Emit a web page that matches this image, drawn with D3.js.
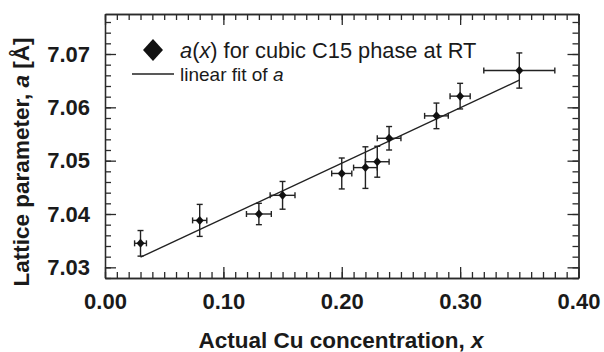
<!DOCTYPE html>
<html>
<head>
<meta charset="utf-8">
<script src="https://cdn.jsdelivr.net/npm/d3@7"></script>
<style>
  body { margin: 0; background: #fff; }
  svg { font-family: "Liberation Sans", Arial, sans-serif; }
  .axis text { font-size: 22px; font-weight: bold; fill: #1a1a1a; }
  .axis path, .axis line { stroke: #2a2a2a; stroke-width: 1.3; }
</style>
</head>
<body>
<svg id="chart"></svg>
<script>
// data
var cuX   = [0.030, 0.080, 0.130, 0.150, 0.200, 0.220, 0.230, 0.240, 0.280, 0.300, 0.350];
var latA  = [7.0345, 7.0388, 7.0400, 7.0435, 7.0476, 7.0487, 7.0498, 7.0542, 7.0584, 7.0621, 7.0669];
var errX  = [0.005, 0.006, 0.0105, 0.0105, 0.0085, 0.010, 0.010, 0.010, 0.010, 0.0085, 0.030];
var errA  = [0.0024, 0.0030, 0.0020, 0.0026, 0.0029, 0.0039, 0.0029, 0.0022, 0.0024, 0.0024, 0.0033];
var fitX  = [0.03, 0.35];
var fitA  = [7.0319, 7.0651];
var xTicks = [0.00, 0.10, 0.20, 0.30, 0.40];
var yTicks = [7.03, 7.04, 7.05, 7.06, 7.07];

var WIDTH = 604, HEIGHT = 352;
var margin = { left: 105, right: 25.5, top: 14, bottom: 74 };
var w = WIDTH - margin.left - margin.right,
    h = HEIGHT - margin.top - margin.bottom;

var svg = d3.select("#chart").attr("width", WIDTH).attr("height", HEIGHT);
var g = svg.append("g").attr("transform", "translate(" + margin.left + "," + margin.top + ")");

var x = d3.scaleLinear().domain([0, 0.40]).range([0, w]);
var y = d3.scaleLinear().domain([7.028, 7.0775]).range([h, 0]);

var xMinor = d3.range(0, 0.4001, 0.01);
var yMinor = d3.range(7.028, 7.0776, 0.002);

// AXES ////////////////////////////////////////////////////////////////
function addAxis(axis, tr) {
    return g.append("g").attr("class", "axis").attr("transform", tr).call(axis);
}

addAxis(d3.axisBottom(x).tickValues(xTicks).tickFormat(d3.format(".2f"))
    .tickSizeInner(-11).tickSizeOuter(0).tickPadding(15), "translate(0," + h + ")");
addAxis(d3.axisBottom(x).tickValues(xMinor).tickFormat("")
    .tickSizeInner(-6).tickSizeOuter(0), "translate(0," + h + ")");
addAxis(d3.axisTop(x).tickValues(xTicks).tickFormat("")
    .tickSizeInner(-11).tickSizeOuter(0), "translate(0,0)");
addAxis(d3.axisTop(x).tickValues(xMinor).tickFormat("")
    .tickSizeInner(-6).tickSizeOuter(0), "translate(0,0)");

addAxis(d3.axisLeft(y).tickValues(yTicks).tickFormat(d3.format(".2f"))
    .tickSizeInner(-11).tickSizeOuter(0).tickPadding(15), "translate(0,0)");
addAxis(d3.axisLeft(y).tickValues(yMinor).tickFormat("")
    .tickSizeInner(-6).tickSizeOuter(0), "translate(0,0)");
addAxis(d3.axisRight(y).tickValues(yTicks).tickFormat("")
    .tickSizeInner(-11).tickSizeOuter(0), "translate(" + w + ",0)");
addAxis(d3.axisRight(y).tickValues(yMinor).tickFormat("")
    .tickSizeInner(-6).tickSizeOuter(0), "translate(" + w + ",0)");

// FIT LINE ////////////////////////////////////////////////////////////
g.append("line")
    .attr("x1", x(fitX[0])).attr("y1", y(fitA[0]))
    .attr("x2", x(fitX[1])).attr("y2", y(fitA[1]))
    .attr("stroke", "#222").attr("stroke-width", 1.4);

// ERROR BARS + POINTS /////////////////////////////////////////////////
var pts = cuX.map(function (d, i) { return { x: d, a: latA[i], ex: errX[i], ea: errA[i] }; });
var cap = 3;
var eb = g.append("g").attr("stroke", "#222").attr("stroke-width", 1.4);

pts.forEach(function (d) {
    var cx = x(d.x), cy = y(d.a);
    var x0 = x(d.x - d.ex), x1 = x(d.x + d.ex);
    var y0 = y(d.a - d.ea), y1 = y(d.a + d.ea);
    eb.append("line").attr("x1", x0).attr("x2", x1).attr("y1", cy).attr("y2", cy);
    eb.append("line").attr("x1", x0).attr("x2", x0).attr("y1", cy - cap).attr("y2", cy + cap);
    eb.append("line").attr("x1", x1).attr("x2", x1).attr("y1", cy - cap).attr("y2", cy + cap);
    eb.append("line").attr("x1", cx).attr("x2", cx).attr("y1", y0).attr("y2", y1);
    eb.append("line").attr("x1", cx - cap).attr("x2", cx + cap).attr("y1", y0).attr("y2", y0);
    eb.append("line").attr("x1", cx - cap).attr("x2", cx + cap).attr("y1", y1).attr("y2", y1);
});

g.append("g").selectAll("path")
    .data(pts)
    .enter().append("path")
    .attr("d", "M0,-4.5L4,0L0,4.5L-4,0Z")
    .attr("transform", function (d) { return "translate(" + x(d.x) + "," + y(d.a) + ")"; })
    .attr("fill", "#111");

// LEGEND //////////////////////////////////////////////////////////////
svg.append("path")
    .attr("d", "M0,-11L10,0L0,11L-10,0Z")
    .attr("transform", "translate(153,50)")
    .attr("fill", "#111");

var t1 = svg.append("text").attr("x", 180).attr("y", 58)
    .style("font-size", "21.8px").style("fill", "#1a1a1a");
t1.append("tspan").style("font-style", "italic").text("a");
t1.append("tspan").text("(");
t1.append("tspan").style("font-style", "italic").text("x");
t1.append("tspan").text(") for cubic C15 phase at RT");

svg.append("line").attr("x1", 132).attr("x2", 174).attr("y1", 74).attr("y2", 74)
    .attr("stroke", "#222").attr("stroke-width", 1.4);

var t2 = svg.append("text").attr("x", 180).attr("y", 81)
    .style("font-size", "19px").style("fill", "#1a1a1a");
t2.append("tspan").text("linear fit of ");
t2.append("tspan").style("font-style", "italic").text("a");

// AXIS TITLES /////////////////////////////////////////////////////////
var xt = svg.append("text")
    .attr("x", 341).attr("y", 348)
    .attr("text-anchor", "middle")
    .style("font-size", "22.5px").style("font-weight", "bold").style("fill", "#1a1a1a");
xt.append("tspan").text("Actual Cu concentration, ");
xt.append("tspan").style("font-style", "italic").text("x");

var yt = svg.append("text")
    .attr("transform", "translate(29,162) rotate(-90)")
    .attr("text-anchor", "middle")
    .style("font-size", "22.5px").style("font-weight", "bold").style("fill", "#1a1a1a");
yt.append("tspan").text("Lattice parameter, ");
yt.append("tspan").style("font-style", "italic").text("a");
yt.append("tspan").text(" [Å]");
</script>
</body>
</html>
